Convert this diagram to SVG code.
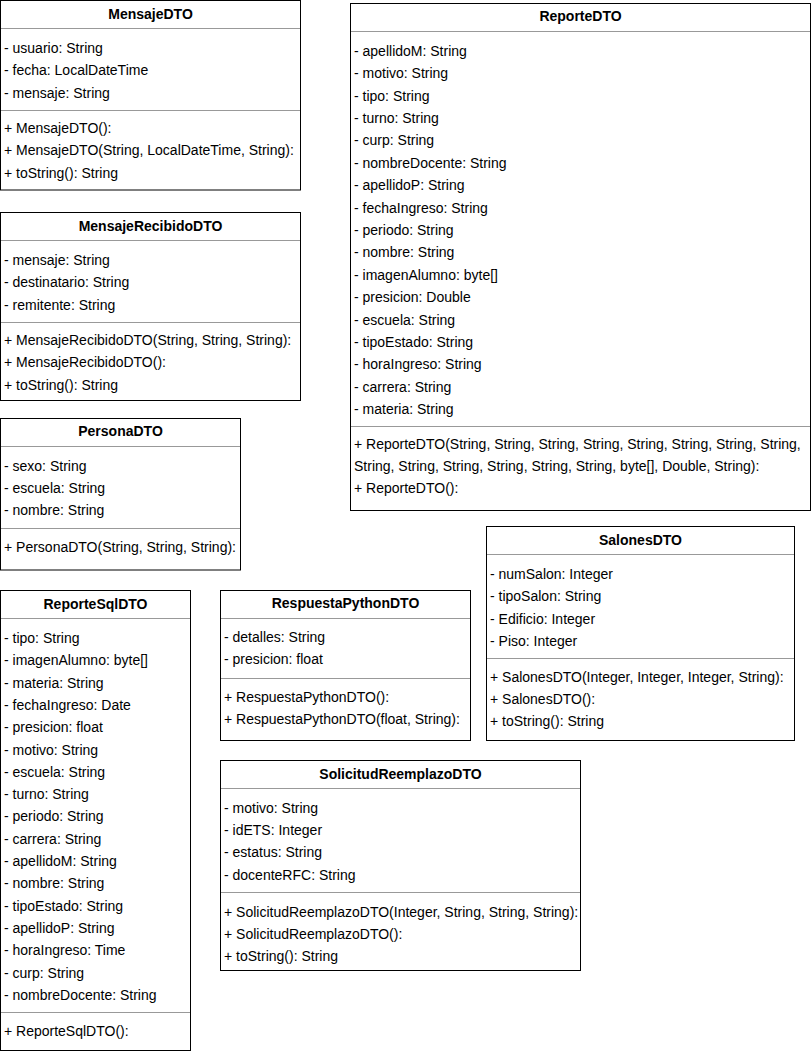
<svg xmlns="http://www.w3.org/2000/svg" width="811" height="1051" viewBox="0 0 811 1051">
<style>
.box{fill:#fff;stroke:#000;stroke-width:1}
.sep{stroke:#999;stroke-width:1}
text{font-family:"Liberation Sans",Arial,Helvetica,sans-serif;font-size:14px;fill:#000}
.h{font-weight:bold;text-anchor:middle}
</style>
<rect width="811" height="1051" fill="#fff"/>
<g id="connectors"></g>

<g id="MensajeDTO">
<rect class="box" x="0.5" y="0.5" width="300" height="189.5"/>
<text class="h" x="150.5" y="18.5">MensajeDTO</text>
<line class="sep" x1="1" y1="28.5" x2="300" y2="28.5"/>
<text x="4" y="53">- usuario: String</text>
<text x="4" y="75.4">- fecha: LocalDateTime</text>
<text x="4" y="97.8">- mensaje: String</text>
<line class="sep" x1="1" y1="110.5" x2="300" y2="110.5"/>
<text x="4" y="133">+ MensajeDTO():</text>
<text x="4" y="155.4">+ MensajeDTO(String, LocalDateTime, String):</text>
<text x="4" y="177.8">+ toString(): String</text>
</g>

<g id="MensajeRecibidoDTO">
<rect class="box" x="0.5" y="212.5" width="300" height="188"/>
<text class="h" x="150.5" y="230.5">MensajeRecibidoDTO</text>
<line class="sep" x1="1" y1="240.5" x2="300" y2="240.5"/>
<text x="4" y="265">- mensaje: String</text>
<text x="4" y="287.4">- destinatario: String</text>
<text x="4" y="309.8">- remitente: String</text>
<line class="sep" x1="1" y1="322.5" x2="300" y2="322.5"/>
<text x="4" y="345">+ MensajeRecibidoDTO(String, String, String):</text>
<text x="4" y="367.4">+ MensajeRecibidoDTO():</text>
<text x="4" y="389.8">+ toString(): String</text>
</g>

<g id="PersonaDTO">
<rect class="box" x="0.5" y="418.5" width="240" height="151.5"/>
<text class="h" x="120.5" y="436">PersonaDTO</text>
<line class="sep" x1="1" y1="446.5" x2="240" y2="446.5"/>
<text x="4" y="470.5">- sexo: String</text>
<text x="4" y="492.9">- escuela: String</text>
<text x="4" y="515.3">- nombre: String</text>
<line class="sep" x1="1" y1="528.5" x2="240" y2="528.5"/>
<text x="4" y="551.5">+ PersonaDTO(String, String, String):</text>
</g>

<g id="ReporteSqlDTO">
<rect class="box" x="0.5" y="590.5" width="190" height="460"/>
<text class="h" x="95.5" y="608.5">ReporteSqlDTO</text>
<line class="sep" x1="1" y1="618.5" x2="190" y2="618.5"/>
<text x="4" y="643">- tipo: String</text>
<text x="4" y="665.3">- imagenAlumno: byte[]</text>
<text x="4" y="687.6">- materia: String</text>
<text x="4" y="709.9">- fechaIngreso: Date</text>
<text x="4" y="732.2">- presicion: float</text>
<text x="4" y="754.5">- motivo: String</text>
<text x="4" y="776.8">- escuela: String</text>
<text x="4" y="799.1">- turno: String</text>
<text x="4" y="821.4">- periodo: String</text>
<text x="4" y="843.7">- carrera: String</text>
<text x="4" y="866">- apellidoM: String</text>
<text x="4" y="888.3">- nombre: String</text>
<text x="4" y="910.6">- tipoEstado: String</text>
<text x="4" y="932.9">- apellidoP: String</text>
<text x="4" y="955.2">- horaIngreso: Time</text>
<text x="4" y="977.5">- curp: String</text>
<text x="4" y="999.8">- nombreDocente: String</text>
<line class="sep" x1="1" y1="1012.5" x2="190" y2="1012.5"/>
<text x="4" y="1035.5">+ ReporteSqlDTO():</text>
</g>

<g id="RespuestaPythonDTO">
<rect class="box" x="220.5" y="590.5" width="250" height="150"/>
<text class="h" x="345.5" y="608">RespuestaPythonDTO</text>
<line class="sep" x1="221" y1="618.5" x2="470" y2="618.5"/>
<text x="224" y="642">- detalles: String</text>
<text x="224" y="664.4">- presicion: float</text>
<line class="sep" x1="221" y1="678.5" x2="470" y2="678.5"/>
<text x="224" y="702">+ RespuestaPythonDTO():</text>
<text x="224" y="724.4">+ RespuestaPythonDTO(float, String):</text>
</g>

<g id="SalonesDTO">
<rect class="box" x="486.5" y="526.5" width="308" height="214"/>
<text class="h" x="640.5" y="544.5">SalonesDTO</text>
<line class="sep" x1="487" y1="554.5" x2="794" y2="554.5"/>
<text x="490" y="579">- numSalon: Integer</text>
<text x="490" y="601.4">- tipoSalon: String</text>
<text x="490" y="623.8">- Edificio: Integer</text>
<text x="490" y="646.2">- Piso: Integer</text>
<line class="sep" x1="487" y1="658.5" x2="794" y2="658.5"/>
<text x="490" y="681.5">+ SalonesDTO(Integer, Integer, Integer, String):</text>
<text x="490" y="703.9">+ SalonesDTO():</text>
<text x="490" y="726.3">+ toString(): String</text>
</g>

<g id="SolicitudReemplazoDTO">
<rect class="box" x="220.5" y="760.5" width="360" height="210"/>
<text class="h" x="400.5" y="778.5">SolicitudReemplazoDTO</text>
<line class="sep" x1="221" y1="788.5" x2="580" y2="788.5"/>
<text x="224" y="812.5">- motivo: String</text>
<text x="224" y="834.9">- idETS: Integer</text>
<text x="224" y="857.3">- estatus: String</text>
<text x="224" y="879.7">- docenteRFC: String</text>
<line class="sep" x1="221" y1="892.5" x2="580" y2="892.5"/>
<text x="224" y="916.5">+ SolicitudReemplazoDTO(Integer, String, String, String):</text>
<text x="224" y="938.9">+ SolicitudReemplazoDTO():</text>
<text x="224" y="961.3">+ toString(): String</text>
</g>

<g id="ReporteDTO">
<rect class="box" x="350.5" y="3.5" width="460" height="507"/>
<text class="h" x="580.5" y="21">ReporteDTO</text>
<line class="sep" x1="351" y1="31.5" x2="810" y2="31.5"/>
<text x="354" y="55.7">- apellidoM: String</text>
<text x="354" y="78.1">- motivo: String</text>
<text x="354" y="100.5">- tipo: String</text>
<text x="354" y="122.9">- turno: String</text>
<text x="354" y="145.3">- curp: String</text>
<text x="354" y="167.7">- nombreDocente: String</text>
<text x="354" y="190.1">- apellidoP: String</text>
<text x="354" y="212.5">- fechaIngreso: String</text>
<text x="354" y="234.9">- periodo: String</text>
<text x="354" y="257.3">- nombre: String</text>
<text x="354" y="279.7">- imagenAlumno: byte[]</text>
<text x="354" y="302.1">- presicion: Double</text>
<text x="354" y="324.5">- escuela: String</text>
<text x="354" y="346.9">- tipoEstado: String</text>
<text x="354" y="369.3">- horaIngreso: String</text>
<text x="354" y="391.7">- carrera: String</text>
<text x="354" y="414.1">- materia: String</text>
<line class="sep" x1="351" y1="426.5" x2="810" y2="426.5"/>
<text x="354" y="448.5">+ ReporteDTO(String, String, String, String, String, String, String, String,</text>
<text x="354" y="470.5">String, String, String, String, String, String, byte[], Double, String):</text>
<text x="354" y="492.5">+ ReporteDTO():</text>
</g>
</svg>
